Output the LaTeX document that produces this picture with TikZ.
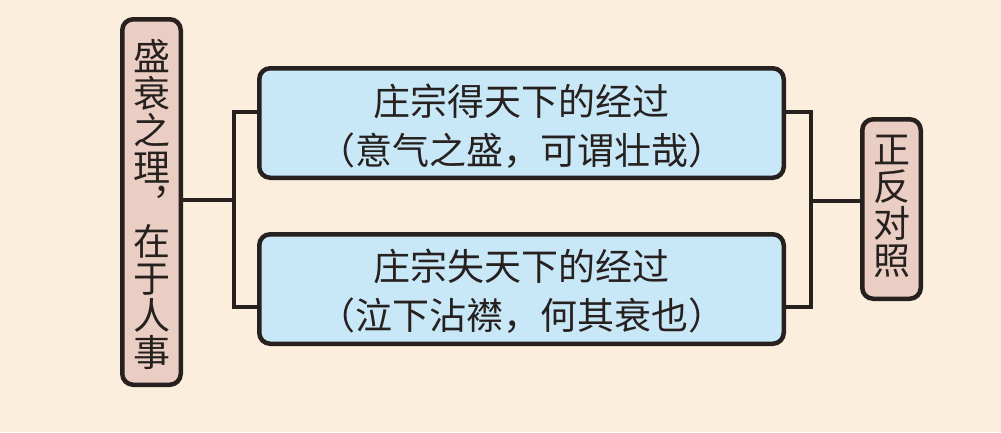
\documentclass[tikz,border=0pt]{standalone}
\usepackage{fontspec}
\setmainfont{Noto Sans CJK SC}
\definecolor{bgc}{RGB}{252,238,220}
\definecolor{pinkc}{RGB}{234,206,196}
\definecolor{bluec}{RGB}{200,232,248}
\definecolor{inkc}{RGB}{38,32,30}
\tikzset{
  box/.style={draw=inkc, line width=4.5pt, rounded corners=11pt, inner sep=0pt},
  sidebox/.style={box, fill=pinkc, minimum width=58.5pt},
  midbox/.style={box, fill=bluec, minimum width=524.5pt, minimum height=109.5pt},
  conn/.style={draw=inkc, line width=3.5pt},
  txt/.style={text=inkc, inner sep=0pt, align=center, font=\fontsize{37}{49}\selectfont},
  vtxt/.style={text=inkc, inner sep=0pt, align=center, font=\fontsize{37}{37}\selectfont}
}
\begin{document}
\begin{tikzpicture}[x=1pt,y=-1pt]
\useasboundingbox[fill=bgc] (0,0) rectangle (1001,432);
% boxes
\node[sidebox, minimum height=365.5pt] (L) at (151.5,202) {};
\node[midbox] (T) at (521.5,123) {};
\node[midbox] (B) at (521.5,289) {};
\node[sidebox, minimum height=179.5pt] (R) at (891.5,209) {};
% texts
\node[vtxt] (Lt) at (151.5,204) {盛\\衰\\之\\理\\︐\\在\\于\\人\\事};
\node[txt] (Tt) at (521.5,126) {庄宗得天下的经过\\（意气之盛，可谓壮哉）};
\node[txt] (Bt) at (521.5,291) {庄宗失天下的经过\\（泣下沾襟，何其衰也）};
\node[vtxt] (Rt) at (891.5,206) {正\\反\\对\\照};
% connector points
\coordinate (lj) at (234,200);
\coordinate (lt) at (234,112);
\coordinate (lb) at (234,307);
\coordinate (rj) at (811,201);
\coordinate (rt) at (811,112);
\coordinate (rb) at (811,307);
% connectors
\draw[conn] (L.east |- lj) -- (lj);
\draw[conn] (T.west |- lt) -- (lt) -- (lb) -- (B.west |- lb);
\draw[conn] (T.east |- rt) -- (rt) -- (rb) -- (B.east |- rb);
\draw[conn] (rj) -- (R.west |- rj);
\end{tikzpicture}
\end{document}
